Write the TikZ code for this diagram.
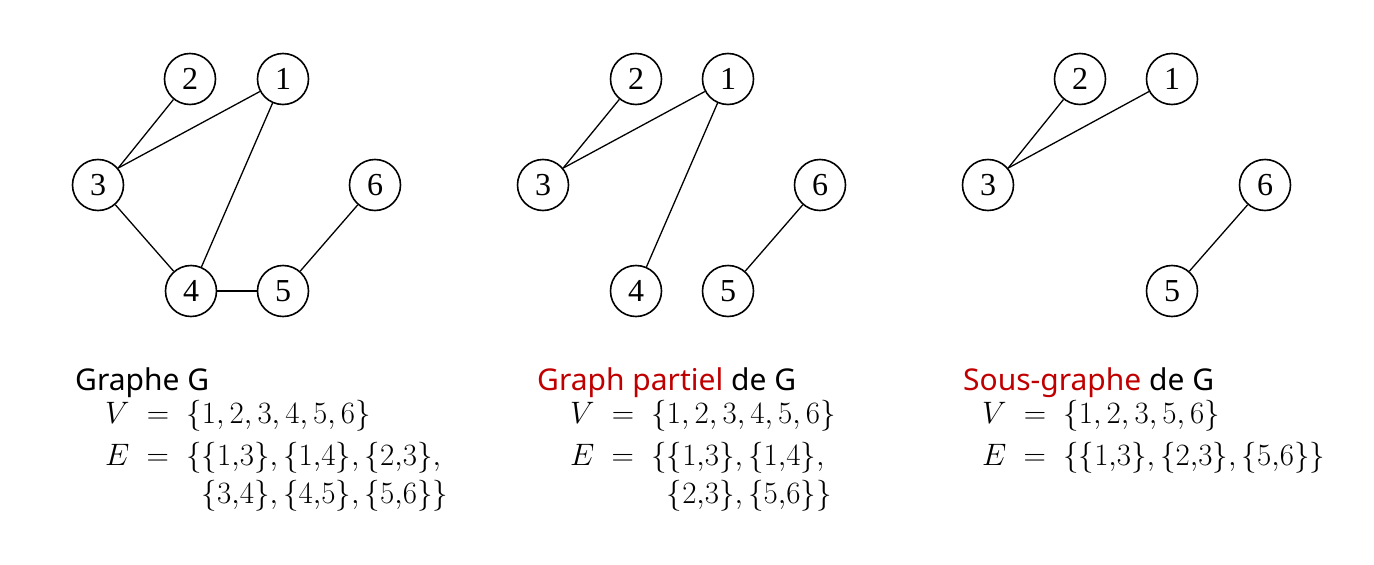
\RequirePackage{fix-cm}
\documentclass[tikz,border=0pt]{standalone}
\usepackage{fontspec}
\setmainfont{Noto Sans}
\newfontfamily\digitfont{Liberation Serif}
\usepackage{xcolor}
\usepackage{tikz}
\definecolor{titlered}{RGB}{192,0,0}

\begin{document}
\begin{tikzpicture}[x=1pt, y=-1pt,
  vert/.style={draw, circle, line width=1.6pt, minimum size=51pt, inner sep=0pt, font=\digitfont\fontsize{32}{32}\selectfont},
  edge/.style={line width=1.3pt},
  lab/.style={anchor=base west, inner sep=0pt, font=\fontsize{30}{36}\selectfont},
  sets/.style={anchor=base west, inner sep=0pt, font=\fontsize{31}{36}\selectfont}
]
\useasboundingbox (0,0) rectangle (1374,565);

% graphe G
\node[vert] (g1) at (283,79) {1};
\node[vert] (g2) at (190,79) {2};
\node[vert] (g3) at (98,185) {3};
\node[vert] (g4) at (191,291) {4};
\node[vert] (g5) at (283,291) {5};
\node[vert] (g6) at (375,185) {6};
\draw[edge] (g3.40) -- (g2);
\draw[edge] (g3.40) -- (g1);
\draw[edge] (g1) -- (g4);
\draw[edge] (g3) -- (g4);
\draw[edge] (g4) -- (g5);
\draw[edge] (g5) -- (g6);

% graphe partiel
\node[vert] (p1) at (728,79) {1};
\node[vert] (p2) at (636,79) {2};
\node[vert] (p3) at (543,185) {3};
\node[vert] (p4) at (636,291) {4};
\node[vert] (p5) at (728,291) {5};
\node[vert] (p6) at (820,185) {6};
\draw[edge] (p3.40) -- (p2);
\draw[edge] (p3.40) -- (p1);
\draw[edge] (p1) -- (p4);
\draw[edge] (p5) -- (p6);

% sous-graphe
\node[vert] (s1) at (1172,79) {1};
\node[vert] (s2) at (1080,79) {2};
\node[vert] (s3) at (988,185) {3};
\node[vert] (s5) at (1172,291) {5};
\node[vert] (s6) at (1265,185) {6};
\draw[edge] (s3.40) -- (s2);
\draw[edge] (s3.40) -- (s1);
\draw[edge] (s5) -- (s6);

% texts
\node[lab] (gT) at (75,390) {Graphe G};
\node[sets] (gV) at (105,423) {$V\;=\;\{1, 2, 3, 4, 5, 6\}$};
\node[sets] (gE) at (105,465) {$E\;=\;\{\{1{,}3\},\{1{,}4\},\{2{,}3\},$};
\node[sets] (gE2) at (105,503) {$\phantom{E\;=\;\{}\{3{,}4\},\{4{,}5\},\{5{,}6\}\}$};

\node[lab] (pT) at (537,390) {\textcolor{titlered}{Graph partiel} de G};
\node[sets] (pV) at (570,423) {$V\;=\;\{1, 2, 3, 4, 5, 6\}$};
\node[sets] (pE) at (570,465) {$E\;=\;\{\{1{,}3\},\{1{,}4\},$};
\node[sets] (pE2) at (570,503) {$\phantom{E\;=\;\{}\{2{,}3\},\{5{,}6\}\}$};

\node[lab] (sT) at (963,390) {\textcolor{titlered}{Sous-graphe} de G};
\node[sets] (sV) at (982,423) {$V\;=\;\{1, 2, 3, 5, 6\}$};
\node[sets] (sE) at (982,465) {$E\;=\;\{\{1{,}3\},\{2{,}3\},\{5{,}6\}\}$};
\end{tikzpicture}
\end{document}
